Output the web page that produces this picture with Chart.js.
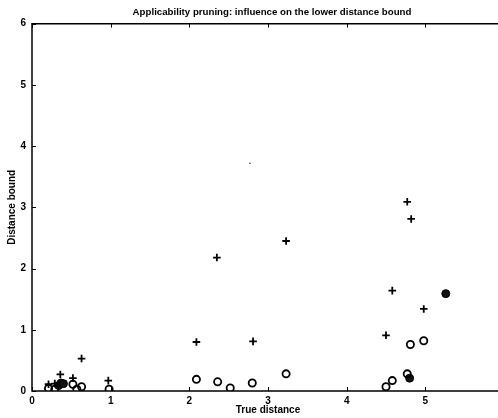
<!DOCTYPE html>
<html lang="en">
<head>
  <meta charset="UTF-8">
  <title>Applicability pruning</title>
  <script src="https://cdn.jsdelivr.net/npm/chart.js"></script>
  <style>
    * { margin: 0; padding: 0; box-sizing: border-box; }
    body { background: #fff; width: 498px; height: 418px; overflow: hidden; }
    canvas { display: block; }
  </style>
</head>
<body>
  <canvas id="chart" width="544" height="418"></canvas>

  <script>
    // Data
    const xTicks = [0, 1, 2, 3, 4, 5, 6];
    const yTicks = [0, 1, 2, 3, 4, 5, 6];

    // "+" markers
    const plusX = [0.21, 0.29, 0.36, 0.52, 0.63, 0.97, 2.09, 2.35, 2.81, 3.23, 4.50, 4.58, 4.77, 4.82, 4.98];
    const plusY = [0.11, 0.12, 0.27, 0.21, 0.53, 0.17, 0.80, 2.18, 0.81, 2.45, 0.91, 1.64, 3.09, 2.81, 1.34];

    // open circles
    const openX = [0.21, 0.29, 0.52, 0.57, 0.63, 0.98, 2.09, 2.36, 2.52, 2.80, 3.23, 4.50, 4.58, 4.77, 4.81, 4.98];
    const openY = [0.04, 0.03, 0.11, 0.03, 0.07, 0.03, 0.19, 0.15, 0.05, 0.13, 0.28, 0.07, 0.17, 0.28, 0.76, 0.82];

    // filled circles
    const filledX = [0.34, 0.37, 0.40, 4.80, 5.26];
    const filledY = [0.09, 0.13, 0.12, 0.21, 1.59];

    // stray dot in the plot
    const dotX = [2.77];
    const dotY = [3.72];

    const pts = (xs, ys) => xs.map((x, i) => ({ x: x, y: ys[i] }));

    // MATLAB style frame with inward ticks
    const framePlugin = {
      id: 'frame',
      afterLayout(chart) {
        // centre the title over the whole figure, like the original
        if (chart.titleBlock) chart.titleBlock.right = chart.width;
      },
      afterDraw(chart) {
        const c = chart.ctx, a = chart.chartArea;
        const xs = chart.scales.x, ys = chart.scales.y;
        c.save();
        c.strokeStyle = '#000';
        c.lineWidth = 1.5;
        c.beginPath();
        c.moveTo(a.right, a.top); c.lineTo(a.left, a.top);
        c.lineTo(a.left, a.bottom); c.lineTo(a.right, a.bottom);
        c.stroke();
        c.lineWidth = 1;
        c.beginPath();
        xTicks.forEach(v => {
          const px = Math.round(xs.getPixelForValue(v)) + 0.5;
          c.moveTo(px, a.bottom); c.lineTo(px, a.bottom - 4);
          c.moveTo(px, a.top); c.lineTo(px, a.top + 4);
        });
        yTicks.forEach(v => {
          const py = Math.round(ys.getPixelForValue(v)) + 0.5;
          c.moveTo(a.left, py); c.lineTo(a.left + 4, py);
        });
        c.stroke();
        c.restore();
      }
    };

    const font = { family: "'Liberation Sans', Arial, sans-serif", size: 10, weight: 'bold' };

    new Chart(document.getElementById('chart'), {
      type: 'scatter',
      data: {
        datasets: [
          {
            label: 'plus',
            data: pts(plusX, plusY),
            pointStyle: 'cross',
            pointRadius: 3.8,
            borderColor: '#000',
            borderWidth: 1.8
          },
          {
            label: 'open',
            data: pts(openX, openY),
            pointStyle: 'circle',
            pointRadius: 3.6,
            borderColor: '#000',
            backgroundColor: 'rgba(255,255,255,0)',
            borderWidth: 1.8
          },
          {
            label: 'filled',
            data: pts(filledX, filledY),
            pointStyle: 'circle',
            pointRadius: 4,
            borderColor: '#000',
            backgroundColor: '#111',
            borderWidth: 1
          },
          {
            label: 'dot',
            data: pts(dotX, dotY),
            pointStyle: 'circle',
            pointRadius: 0.8,
            borderColor: '#333',
            backgroundColor: '#333',
            borderWidth: 0
          }
        ]
      },
      options: {
        responsive: false,
        animation: false,
        layout: { padding: { right: 40 } },
        scales: {
          x: {
            type: 'linear',
            min: 0,
            max: 6,
            afterBuildTicks: s => { s.ticks = xTicks.map(v => ({ value: v })); },
            afterFit: s => { s.height = 27; s.paddingLeft = 0; s.paddingRight = 0; },
            grid: { display: false, drawTicks: false },
            border: { display: false },
            ticks: { color: '#000', font: font, padding: 4, maxRotation: 0 },
            title: {
              display: true,
              text: 'True distance',
              color: '#000',
              font: font,
              padding: { top: 0, bottom: 2 }
            }
          },
          y: {
            type: 'linear',
            min: 0,
            max: 6,
            afterBuildTicks: s => { s.ticks = yTicks.map(v => ({ value: v })); },
            afterFit: s => { s.width = 32; },
            grid: { display: false, drawTicks: false },
            border: { display: false },
            ticks: { color: '#000', font: font, padding: 6 },
            title: {
              display: true,
              text: 'Distance bound',
              color: '#000',
              font: font,
              padding: { top: 6, bottom: 0 }
            }
          }
        },
        plugins: {
          legend: { display: false },
          tooltip: { enabled: false },
          title: {
            display: true,
            text: 'Applicability pruning: influence on the lower distance bound',
            color: '#000',
            font: { family: "'Liberation Sans', Arial, sans-serif", size: 9.7, weight: 'bold', lineHeight: 1.2 },
            padding: { top: 7, bottom: 5 }
          }
        }
      },
      plugins: [framePlugin]
    });
  </script>
</body>
</html>
